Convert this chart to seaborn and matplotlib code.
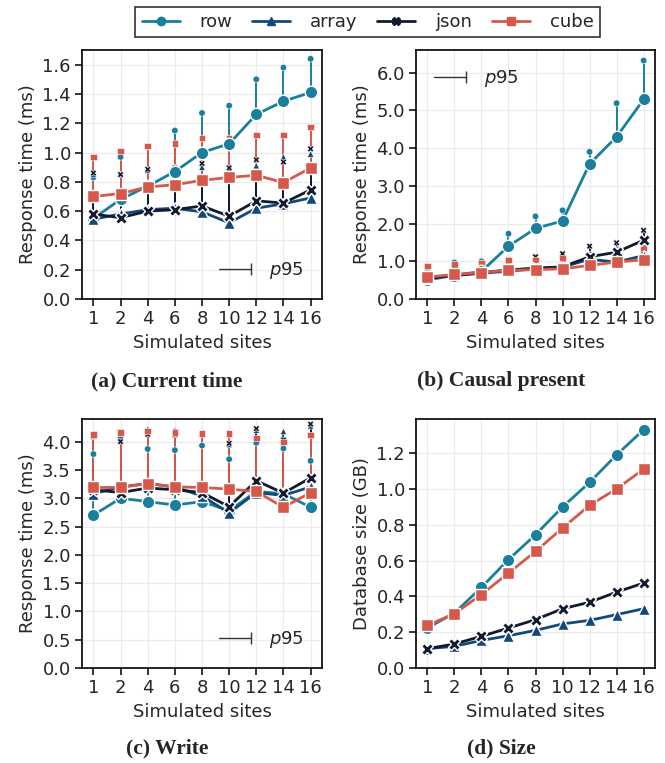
import numpy as np
import pandas as pd
import matplotlib
matplotlib.use("Agg")
import matplotlib.pyplot as plt
from matplotlib.lines import Line2D
from matplotlib.legend_handler import HandlerBase
import seaborn as sns

# ---------------- data ----------------
sites = ["1", "2", "4", "6", "8", "10", "12", "14", "16"]
series = ["row", "array", "json", "cube"]

# (a) Current time
row_a = [0.55, 0.68, 0.77, 0.87, 1.00, 1.06, 1.26, 1.35, 1.41]
row_a95 = [0.83, 0.97, 1.04, 1.15, 1.27, 1.32, 1.50, 1.58, 1.64]
array_a = [0.545, 0.58, 0.61, 0.62, 0.595, 0.52, 0.62, 0.65, 0.69]
array_a95 = [0.85, 0.85, 0.88, 0.90, 0.90, 0.89, 0.91, 0.97, 0.99]
json_a = [0.58, 0.555, 0.60, 0.61, 0.635, 0.565, 0.67, 0.655, 0.745]
json_a95 = [0.86, 0.85, 0.885, 0.895, 0.925, 0.895, 0.95, 0.935, 1.025]
cube_a = [0.70, 0.72, 0.765, 0.78, 0.81, 0.83, 0.845, 0.795, 0.895]
cube_a95 = [0.97, 1.01, 1.045, 1.06, 1.10, 1.10, 1.12, 1.12, 1.175]

# (b) Causal present
row_b = [0.50, 0.63, 0.73, 1.40, 1.87, 2.07, 3.58, 4.30, 5.29]
row_b95 = [0.80, 0.97, 1.00, 1.73, 2.19, 2.35, 3.90, 5.19, 6.32]
array_b = [0.55, 0.62, 0.68, 0.74, 0.80, 0.85, 1.05, 0.98, 1.15]
array_b95 = [0.85, 0.90, 0.95, 1.00, 1.02, 1.05, 1.15, 1.20, 1.30]
json_b = [0.55, 0.63, 0.70, 0.77, 0.82, 0.85, 1.12, 1.24, 1.56]
json_b95 = [0.85, 0.92, 0.95, 1.04, 1.12, 1.20, 1.40, 1.49, 1.82]
cube_b = [0.58, 0.65, 0.70, 0.76, 0.78, 0.80, 0.89, 0.98, 1.04]
cube_b95 = [0.87, 0.92, 0.96, 1.03, 1.03, 1.07, 1.19, 1.31, 1.36]

# (c) Write
row_c = [2.70, 3.00, 2.94, 2.88, 2.94, 2.78, 3.12, 3.08, 2.84]
row_c95 = [3.78, 4.08, 3.87, 3.85, 3.93, 3.69, 3.98, 3.88, 3.66]
array_c = [3.08, 3.20, 3.26, 3.20, 3.04, 2.74, 3.10, 3.05, 3.20]
array_c95 = [4.10, 4.15, 4.22, 4.20, 4.15, 3.95, 4.20, 4.18, 4.28]
json_c = [3.15, 3.10, 3.18, 3.15, 3.10, 2.85, 3.31, 3.09, 3.36]
json_c95 = [4.10, 4.00, 4.13, 4.12, 4.13, 3.97, 4.23, 4.03, 4.31]
cube_c = [3.19, 3.19, 3.26, 3.20, 3.19, 3.16, 3.12, 2.84, 3.10]
cube_c95 = [4.13, 4.16, 4.19, 4.16, 4.14, 4.14, 4.06, 3.99, 4.12]

# (d) Size
row_d = [0.223, 0.307, 0.45, 0.605, 0.744, 0.899, 1.036, 1.19, 1.33]
array_d = [0.108, 0.121, 0.154, 0.18, 0.21, 0.246, 0.266, 0.298, 0.331]
json_d = [0.108, 0.134, 0.177, 0.223, 0.27, 0.331, 0.367, 0.424, 0.474]
cube_d = [0.238, 0.303, 0.41, 0.53, 0.651, 0.781, 0.908, 1.0, 1.11]

captions = ["(a) Current time", "(b) Causal present", "(c) Write", "(d) Size"]

# ---------------- style ----------------
colors = {"row": "#1a7f9c", "array": "#12497a", "json": "#111a30", "cube": "#d5584a"}
markers = {"row": "o", "array": "^", "json": "X", "cube": "s"}
msizes = {"row": 9, "array": 8, "json": 9, "cube": 8.5}

sns.set_theme(style="ticks")
plt.rcParams["font.family"] = ["DejaVu Sans"]
plt.rcParams["mathtext.fontset"] = "dejavusans"


class P95Handler(HandlerBase):
    def create_artists(self, legend, orig_handle, xdescent, ydescent, width, height,
                       fontsize, trans):
        y = height / 2 - ydescent
        x0, x1 = -xdescent, width - xdescent
        line = Line2D([x0, x1], [y, y], color="#333333", lw=1.0, transform=trans)
        cap = Line2D([x1], [y], color="#333333", marker="|", markersize=9,
                     markeredgewidth=1.0, linestyle="none", transform=trans)
        return [line, cap]


def frame(means, p95=None):
    rows = []
    for s in series:
        for i, x in enumerate(sites):
            rows.append({"sites": x, "series": s, "value": means[s][i],
                         "p95": (p95[s][i] if p95 is not None else np.nan)})
    return pd.DataFrame(rows)


panels = [
    (frame({"row": row_a, "array": array_a, "json": json_a, "cube": cube_a},
           {"row": row_a95, "array": array_a95, "json": json_a95, "cube": cube_a95}),
     "Response time (ms)", np.arange(0, 1.61, 0.2), (0, 1.70), "lower right"),
    (frame({"row": row_b, "array": array_b, "json": json_b, "cube": cube_b},
           {"row": row_b95, "array": array_b95, "json": json_b95, "cube": cube_b95}),
     "Response time (ms)", np.arange(0, 6.01, 1.0), (0, 6.6), "upper left"),
    (frame({"row": row_c, "array": array_c, "json": json_c, "cube": cube_c},
           {"row": row_c95, "array": array_c95, "json": json_c95, "cube": cube_c95}),
     "Response time (ms)", np.arange(0, 4.01, 0.5), (0, 4.4), "lower right"),
    (frame({"row": row_d, "array": array_d, "json": json_d, "cube": cube_d}),
     "Database size (GB)", np.arange(0, 1.21, 0.2), (0, 1.39), None),
]

W, H = 665, 763
fig = plt.figure(figsize=(W / 100, H / 100), dpi=100)
boxes = [(82, 50, 240, 249), (416, 50, 239, 249), (82, 419, 240, 249), (416, 419, 239, 249)]
cap_pos = [(167, 381), (501, 381), (167, 748), (501, 748)]

for (df, ylabel, yticks, ylim, p95loc), (l, t, w, h), cap, (cx, cy) in zip(panels, boxes, captions, cap_pos):
    ax = fig.add_axes([l / W, 1 - (t + h) / H, w / W, h / H])
    ax.grid(True, color="#ebebeb", lw=0.9)
    ax.set_axisbelow(True)
    if p95loc is not None:
        for s in series:
            sub = df[df["series"] == s]
            ax.vlines(sub["sites"], sub["value"], sub["p95"], color=colors[s], lw=1.4, zorder=1.5)
        sns.scatterplot(data=df, x="sites", y="p95", hue="series", style="series",
                        palette=colors, markers=markers, s=22, edgecolor="white",
                        linewidth=0.4, legend=False, ax=ax, zorder=1.6)
    for s in series:
        sub = df[df["series"] == s]
        sns.lineplot(data=sub, x="sites", y="value", color=colors[s], marker=markers[s],
                     markersize=msizes[s], markeredgecolor="white", markeredgewidth=1.0,
                     lw=2.0, sort=False, legend=False, ax=ax, zorder=2)
    ax.set_ylim(*ylim)
    ax.set_yticks(yticks)
    ax.set_yticklabels([f"{v:.1f}" for v in yticks])
    ax.set_xlim(-0.42, 8.42)
    ax.set_xlabel("Simulated sites", fontsize=13, labelpad=4)
    ax.set_ylabel(ylabel, fontsize=13, labelpad=4)
    ax.tick_params(labelsize=13, length=5, width=1.1, color="black", pad=3)
    for sp in ax.spines.values():
        sp.set_color("black")
        sp.set_linewidth(1.2)
    if p95loc is not None:
        h95 = Line2D([], [])
        ax.legend([h95], [r"$p$95"], loc=p95loc, frameon=False, fontsize=13,
                  handler_map={Line2D: P95Handler()}, handlelength=1.75,
                  handletextpad=1.0, borderaxespad=0.6)
    fig.text(cx / W, 1 - cy / H, cap, ha="center", va="center",
             fontsize=15.5, fontweight="bold", family=["Liberation Serif", "DejaVu Serif"])

handles = [Line2D([0], [0], color=colors[s], lw=2.0, marker=markers[s], markersize=6,
                  markeredgecolor=colors[s]) for s in series]
leg = fig.legend(handles, series, loc="center", bbox_to_anchor=(367.5 / W, 1 - 22 / H),
                 ncol=4, fontsize=13, frameon=True, fancybox=False, edgecolor="black",
                 handlelength=2.1, handletextpad=1.1, columnspacing=1.1,
                 borderpad=0.35)
leg.get_frame().set_linewidth(1.2)

fig.savefig("out.png", dpi=100)
